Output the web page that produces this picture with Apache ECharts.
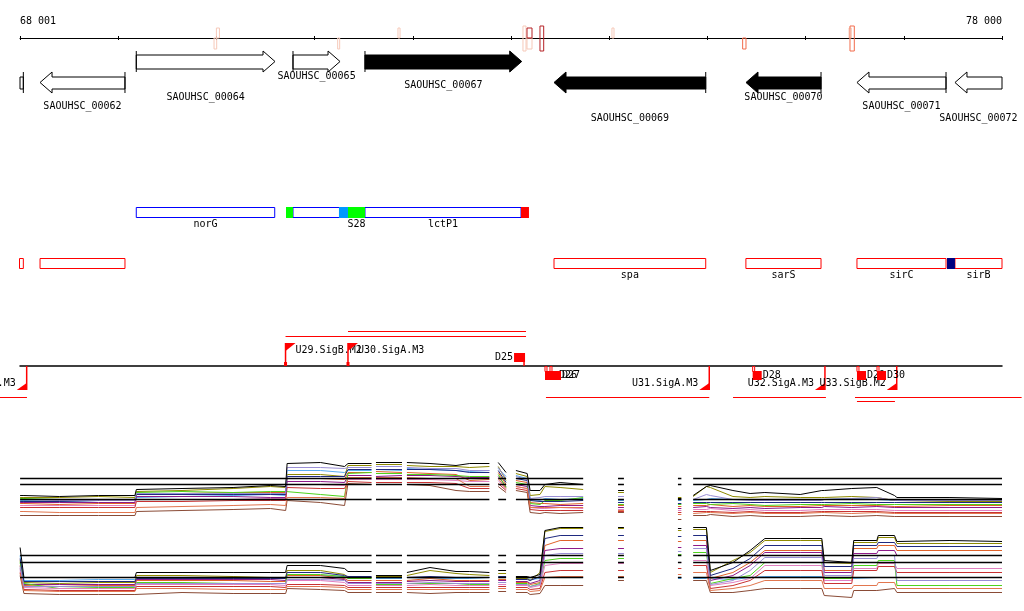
<!DOCTYPE html>
<html><head><meta charset="utf-8">
<script src="https://cdn.jsdelivr.net/npm/echarts@6/dist/echarts.min.js"></script>
<style>html,body{margin:0;padding:0;background:#fff}#c{width:1024px;height:611px}</style>
</head><body><div id="c"></div>
<script>
// ================= DATA =================
const rangeStart = 68000, rangeEnd = 78000;
const rulerTickValues = [68000, 78000];
const rulerTickLabels = ['68 001', '78 000'];

// genes (SAOUHSC locus tags)
const geneName   = ['', 'SAOUHSC_00062', 'SAOUHSC_00064', 'SAOUHSC_00065', 'SAOUHSC_00067', 'SAOUHSC_00069', 'SAOUHSC_00070', 'SAOUHSC_00071', 'SAOUHSC_00072'];
const geneStart  = [67700, 68204, 69184, 70780, 71513, 73438, 75393, 76523, 77521];
const geneEnd    = [68034, 69069, 70597, 71259, 73109, 74983, 76157, 77430, 78350];
const geneStrand = ['-', '-', '+', '+', '+', '-', '-', '-', '-'];
const geneFilled = [false, false, false, false, true, true, true, false, false];

// short marks on the ruler
const markStart  = [69976, 70000, 71235, 71849, 73122, 73163, 73163, 73295, 74028, 75359, 76442, 76452];
const markEnd    = [70003, 70031, 71255, 71870, 73153, 73214, 73214, 73333, 74049, 75393, 76466, 76496];
const markStrand = ['-', '+', '-', '+', '±', '-', '+', '±', '+', '-', '+', '±'];
const markLevel  = ['low', 'low', 'low', 'low', 'low', 'low', 'high', 'high', 'low', 'mid', 'low', 'mid'];

// annotation track 1 (blue boxes)
const feat1Name  = ['norG', '', 'lctP1'];
const feat1Start = [69184, 70780, 71513];
const feat1End   = [70594, 71513, 73102];
const spot1Name  = ['', '', 'S28', ''];
const spot1Start = [70709, 71248, 71340, 73102];
const spot1End   = [70780, 71340, 71513, 73183];
const spot1Kind  = ['green', 'cyan', 'green', 'red'];

// annotation track 2 (red boxes)
const feat2Name  = ['', '', 'spa', 'sarS', 'sirC', 'sirB'];
const feat2Start = [67980, 68204, 73438, 75392, 76523, 77521];
const feat2End   = [68034, 69069, 74983, 76157, 77430, 78000];
const spot2Start = [77440];
const spot2End   = [77521];

// transcription units
const tuStart  = [70704, 71340, 67796, 73356, 75261, 76503, 76523];
const tuEnd    = [73153, 73153, 68071, 75019, 76207, 78200, 76910];
const tuStrand = ['+', '+', '-', '-', '-', '-', '-'];
const tuLevel  = [0, 1, 0, 0, 0, 0, 1];

// promoters
const promName   = ['U28.SigA.M3', 'U29.SigB.M2', 'U30.SigA.M3', 'U31.SigA.M3', 'U32.SigA.M3', 'U33.SigB.M2'];
const promPos    = [68068, 70704, 71340, 75019, 76197, 76928];
const promStrand = ['-', '+', '+', '-', '-', '-'];

// terminators
const termName   = ['D25', 'D26', 'D27', 'D28', 'D29', 'D30'];
const termStart  = [73031, 73346, 73397, 75461, 76523, 76727];
const termEnd    = [73143, 73479, 73509, 75553, 76615, 76819];
const termStrand = ['+', '-', '-', '-', '-', '-'];

// expression tiling positions (bp); null values = no probe
const exprPos = [68001,68040,68400,68800,69170, 69185,69650,70170,70550,70705, 70720,71060,71305, 71340,71580, 71600, 71625,71890, 71910,
  71940,72175,72440,72580,72780, 72830, 72870,72950, 72990, 73050,73165, 73195,73295,73345,73500,73735, 73900,
  74855,74990,75030,75260,75435,75585,75945,76165,76190,76470,76490,76725,76740,76905,76930,77470,78000];
// two isolated probe windows inside spa
const probeWinStart = [74090, 74700];
const probeWinEnd   = [74150, 74735];

// upper expression panel (log2 signal)
const up_black = [10.5,10.5,10.4,10.5,10.5, 11.1,11.2,11.3,11.5,11.4, 13.7,13.8,13.4, 13.7,13.7, null, 13.8,13.8, null, 13.8,13.7,13.5,13.7,13.7, null, 13.8,12.8, null, 13.0,12.7, 11.0,11.0,11.6,11.8,11.6, null, 10.5,11.4,11.5,11.0,10.7,10.8,10.6,11.0,11.0,11.2,11.1,11.3,11.1,10.5,10.3,10.3,10.2];
const up_s01 = [10.0,10.0,9.9,10.0,10.0, 10.3,10.4,10.5,10.6,10.5, 13.0,13.0,12.8, 13.0,13.0, null, 13.1,13.0, null, 13.2,13.1,13.0,12.9,13.0, null, 13.2,12.4, null, 12.5,12.2, 10.1,10.0,10.2,10.1,10.2, null, 10.0,10.1,10.2,10.1,10.1,10.0,10.0,10.1,10.1,10.2,10.2,10.1,10.1,10.0,10.1,10.1,10.1];
const up_s02 = [10.3,10.3,10.3,10.4,10.3, 10.9,11.0,11.2,11.4,11.3, 12.6,12.6,12.4, 13.5,13.5, null, 13.6,13.6, null, 13.5,13.4,13.4,13.3,13.4, null, 13.4,12.0, null, 12.7,12.4, 10.5,10.6,11.4,11.3,11.1, null, 10.4,11.4,11.3,10.4,10.3,10.4,10.3,10.3,10.3,10.4,10.4,10.3,10.3,10.0,10.0,9.9,9.9];
const up_s03 = [9.7,9.7,9.6,9.7,9.7, 10.6,10.7,10.8,10.8,10.8, 12.2,12.2,12.1, 12.8,12.8, null, 12.9,12.8, null, 12.8,12.7,12.6,12.0,12.1, null, 12.8,11.6, null, 12.0,11.8, 9.8,9.7,9.7,9.6,9.7, null, 9.5,9.5,9.6,9.4,9.5,9.4,9.4,9.5,9.5,9.5,9.5,9.5,9.5,9.4,9.4,9.5,9.5];
const up_s04 = [9.8,9.8,9.8,9.8,9.8, 10.4,10.4,10.4,10.3,10.3, 11.9,11.9,11.8, 12.5,12.5, null, 12.4,12.5, null, 12.5,12.5,12.4,12.3,12.3, null, 12.4,11.4, null, 11.6,11.4, 9.5,9.4,9.4,9.5,9.5, null, 9.3,9.4,9.3,9.2,9.3,9.2,9.3,9.3,9.4,9.3,9.3,9.4,9.4,9.3,9.3,9.3,9.3];
const up_s05 = [10.2,10.2,10.1,10.1,10.1, 10.8,10.9,10.8,10.9,10.9, 10.7,10.6,10.4, 12.7,12.8, null, 12.7,12.7, null, 12.6,12.6,12.5,12.4,12.4, null, 12.6,11.3, null, 11.8,11.6, 9.7,9.6,10.0,10.0,10.3, null, 9.7,9.7,9.6,9.7,9.6,9.5,9.6,9.6,9.6,9.7,9.7,9.6,9.6,9.6,9.6,9.6,9.6];
const up_s06 = [9.5,9.5,9.5,9.5,9.5, 10.1,10.1,10.1,10.2,10.2, 11.6,11.6,11.5, 12.1,12.1, null, 12.1,12.1, null, 12.1,12.1,12.0,11.9,11.9, null, 12.0,11.1, null, 11.4,11.2, 9.3,9.2,9.2,9.3,9.2, null, 9.1,9.1,9.2,9.0,9.1,9.0,9.0,9.1,9.1,9.1,9.1,9.1,9.1,9.0,9.0,9.0,9.0];
const up_s07 = [9.3,9.3,9.3,9.3,9.3, 9.9,9.9,10.0,10.0,10.0, 11.3,11.2,11.2, 11.9,11.8, null, 11.8,11.8, null, 11.8,11.8,11.7,11.2,11.2, null, 11.7,11.0, null, 11.2,11.0, 9.1,9.0,9.0,9.0,9.0, null, 8.9,8.9,8.9,8.8,8.9,8.8,8.8,8.9,8.9,8.9,8.9,8.9,8.9,8.8,8.8,8.8,8.8];
const up_s08 = [9.9,9.9,9.9,10.0,10.0, 10.6,10.6,10.6,10.6,10.6, 12.4,12.4,12.4, 13.1,13.1, null, 13.1,13.1, null, 13.1,13.1,13.0,12.8,12.8, null, 13.0,11.8, null, 12.2,12.0, 10.0,9.9,9.9,9.9,10.0, null, 9.8,9.8,9.8,9.8,9.8,9.8,9.8,9.8,9.8,9.8,9.8,9.8,9.8,9.8,9.8,9.8,9.8];
const up_s09 = [8.5,8.5,8.5,8.5,8.5, 8.9,9.0,9.1,9.2,9.0, 10.0,9.8,9.5, 11.7,11.6, null, 11.6,11.6, null, 11.6,11.5,11.0,10.9,10.9, null, 11.4,10.8, null, 11.0,10.8, 8.8,8.7,8.8,8.7,8.8, null, 8.5,8.5,8.6,8.4,8.5,8.4,8.4,8.5,8.5,8.4,8.4,8.5,8.5,8.4,8.4,8.4,8.4];
const up_s10 = [8.9,8.9,8.8,8.8,8.8, 9.3,9.4,9.5,9.6,9.5, 10.3,10.3,10.2, 12.3,12.3, null, 12.3,12.3, null, 12.3,12.2,12.2,11.4,11.4, null, 12.2,11.2, null, 11.4,11.2, 9.3,9.3,9.3,9.3,9.3, null, 8.7,8.8,8.8,8.7,8.8,8.7,8.7,8.8,8.8,8.7,8.7,8.8,8.8,8.7,8.7,8.7,8.7];
const up_s11 = [10.1,10.1,10.0,10.0,10.0, 10.7,10.7,10.7,10.7,10.7, 13.3,13.3,13.2, 13.3,13.3, null, 13.4,13.4, null, 13.3,13.2,13.2,13.0,13.0, null, 13.3,12.2, null, 12.4,12.1, 10.2,10.3,10.4,10.4,10.4, null, 10.1,10.6,10.5,10.1,10.0,10.0,10.0,10.0,10.1,10.2,10.2,10.3,10.2,10.0,10.0,10.0,10.0];
// isolated probe windows, order s01..s11 then black
const up_winA = [10.0, 10.8, 9.5, 9.3, 9.6, 9.1, 8.9, 9.8, 8.8, 9.0, 10.4, 11.0];
const up_winB = [10.0, 10.3, 9.4, 9.2, 9.6, 9.0, 8.8, 9.7, 8.1, 8.6, 10.1, 10.2];
const up_thresholds = [12.2, 11.6, 10.1];

// lower expression panel (log2 signal)
const lo_black = [13.3,10.3,10.3,10.3,10.3, 10.8,10.8,10.8,10.8,10.8, 11.5,11.5,11.2, 10.9,10.9, null, 10.5,10.5, null, 10.8,11.3,10.9,10.9,10.8, null, 11.0,11.0, null, 10.4,10.4, 10.3,10.6,15.0,15.3,15.3, null, 15.3,15.3,11.0,11.8,13.0,14.2,14.2,14.2,12.0,11.8,14.0,14.0,14.5,14.5,13.9,14.0,13.9];
const lo_s01 = [12.5,10.0,10.0,10.1,10.1, 10.3,10.3,10.3,10.3,10.2, 10.5,10.5,10.4, 10.3,10.3, null, 10.2,10.2, null, 10.3,10.2,10.2,10.2,10.3, null, 10.3,10.3, null, 10.2,10.2, 10.1,10.2,10.3,10.3,10.3, null, 10.2,10.2,10.2,10.1,10.3,10.4,10.4,10.4,10.2,10.2,10.3,10.3,10.3,10.3,10.3,10.3,10.3];
const lo_s02 = [12.0,9.8,9.7,9.8,9.8, 10.5,10.5,10.4,10.3,10.3, 11.0,11.0,10.6, 10.3,10.3, null, 10.4,10.4, null, 10.5,11.0,10.7,10.6,10.5, null, 10.7,10.7, null, 10.2,10.2, 10.0,10.8,14.9,15.2,15.2, null, 15.1,15.1,10.8,12.0,12.8,14.0,14.0,14.0,11.8,11.7,13.8,13.8,14.3,14.3,13.7,13.7,13.7];
const lo_s03 = [11.5,9.5,9.4,9.5,9.5, 10.0,10.0,10.0,9.9,9.9, 10.5,10.5,10.2, 10.0,10.0, null, 10.0,10.0, null, 10.0,10.2,10.0,10.0,10.0, null, 10.1,10.1, null, 9.8,9.8, 9.6,9.8,13.5,14.0,14.0, null, 14.0,14.0,10.2,10.8,11.8,13.0,13.0,13.0,11.0,11.0,13.2,13.2,13.5,13.5,13.0,13.0,13.0];
const lo_s04 = [11.2,9.6,9.6,9.6,9.6, 10.1,10.1,10.1,10.1,10.0, 10.3,10.3,10.1, 9.8,9.8, null, 9.8,9.8, null, 9.9,10.0,9.9,9.9,9.9, null, 10.0,10.0, null, 9.9,9.9, 9.7,10.0,13.0,13.2,13.2, null, 13.5,13.5,10.0,10.5,11.5,12.8,12.8,12.8,10.8,10.8,12.7,12.7,13.0,13.0,12.5,12.5,12.5];
const lo_s05 = [11.8,9.7,9.2,9.3,9.3, 9.8,9.8,9.7,9.7,9.7, 10.6,10.6,10.4, 10.2,10.2, null, 9.6,9.6, null, 9.7,9.7,9.7,9.6,9.6, null, 9.8,9.8, null, 9.7,9.7, 9.4,9.7,12.0,12.2,12.2, null, 12.8,12.8,9.7,10.2,10.5,11.8,11.8,11.8,10.2,10.2,11.5,11.5,12.0,12.0,9.5,9.5,9.5];
const lo_s06 = [11.0,9.3,9.2,9.2,9.2, 9.6,9.6,9.6,9.6,9.5, 10.0,10.0,9.8, 9.5,9.5, null, 9.5,9.5, null, 9.5,9.6,9.5,9.5,9.5, null, 9.6,9.6, null, 9.5,9.5, 9.3,9.5,11.5,11.7,11.7, null, 12.0,12.0,9.5,9.8,10.2,11.5,11.5,11.5,10.0,10.0,11.2,11.2,11.7,11.7,11.2,11.2,11.2];
const lo_s07 = [10.8,9.1,9.0,9.0,9.0, 9.4,9.4,9.4,9.4,9.3, 9.6,9.6,9.5, 9.3,9.3, null, 9.3,9.3, null, 9.3,9.3,9.3,9.3,9.3, null, 9.4,9.4, null, 9.3,9.3, 9.1,9.2,10.8,11.0,11.0, null, 11.5,11.5,9.2,9.5,10.0,11.0,11.0,11.0,9.7,9.7,11.0,11.0,11.4,11.4,10.8,10.8,10.8];
const lo_s08 = [12.2,9.9,9.9,9.9,9.9, 10.2,10.2,10.2,10.2,10.2, 10.8,10.8,10.5, 10.4,10.4, null, 10.3,10.3, null, 10.3,10.4,10.3,10.3,10.3, null, 10.4,10.4, null, 10.1,10.1, 10.0,10.4,14.2,14.5,14.5, null, 14.5,14.5,10.5,11.2,12.2,13.5,13.5,13.5,11.4,11.4,13.5,13.5,13.8,13.8,13.4,13.4,13.4];
const lo_s09 = [10.5,8.7,8.6,8.6,8.6, 8.8,8.8,8.7,8.7,8.7, 9.2,9.1,9.0, 8.8,8.8, null, 8.8,8.8, null, 8.8,8.7,8.8,8.8,8.8, null, 8.9,8.9, null, 8.8,8.8, 8.6,8.7,9.5,9.5,9.5, null, 10.0,10.0,8.8,8.8,9.0,9.2,9.2,9.2,8.5,8.3,9.0,9.0,9.2,9.2,8.8,8.8,8.8];
const lo_s10 = [10.7,9.0,8.9,8.9,8.9, 9.2,9.2,9.1,9.1,9.1, 9.4,9.4,9.3, 9.1,9.1, null, 9.1,9.1, null, 9.1,9.1,9.1,9.1,9.1, null, 9.2,9.2, null, 9.1,9.1, 8.9,9.0,10.3,10.4,10.4, null, 10.8,10.8,9.0,9.2,9.5,10.0,10.0,10.0,9.2,9.2,9.5,9.5,9.8,9.8,9.2,9.2,9.2];
const lo_s11 = [11.4,9.4,9.4,9.4,9.4, 9.7,9.7,9.7,9.7,9.7, 10.1,10.1,10.0, 9.7,9.7, null, 9.7,9.7, null, 9.7,9.8,9.7,9.7,9.7, null, 9.8,9.8, null, 9.6,9.6, 9.4,9.6,12.5,12.7,12.7, null, 13.2,13.2,9.6,10.0,11.0,12.3,12.3,12.3,10.5,10.5,12.2,12.2,12.5,12.5,10.0,10.0,10.0];
const lo_winA = [10.3, 15.2, 14.0, 13.2, 12.2, 11.7, 11.0, 14.5, 10.0, 10.4, 12.7, 15.3];
const lo_winB = [10.2, 15.0, 13.9, 13.3, 12.6, 11.8, 11.2, 14.4, 10.3, 10.6, 12.9, 15.2];
const lo_thresholds = [12.5, 11.8, 10.3];

// ================= STYLE / LAYOUT =================
const FONT = '10px "DejaVu Sans Mono", monospace';
const sampleColors = ['#5aaef0', '#8f8a00', '#e0622a', '#8e1a8a', '#4fd41c', '#e080c0', '#c83232', '#1f2a80', '#8a4b36', '#e2764e', '#9a8fd6'];
const markColors = {low: '#f6c9b9', mid: '#f26b4b', high: '#b52025'};
const spotColors = {green: '#00ff00', cyan: '#0099ff', red: '#ff0000', navy: '#000080'};
const L = {
  fwdGene: {top: 51, bodyTop: 55, bodyBot: 69, bot: 72},
  revGene: {top: 72, bodyTop: 77, bodyBot: 89, bot: 93},
  geneLabelY: [null, 106, 97, 76, 85, 118, 97, 106, 118],
  mark: {'+': [28, 38], '-': [38, 49], '±': [26, 51]},
  feat1: {top: 207.5, bot: 217.5, label: 224},
  feat2: {top: 258.5, bot: 268.5, label: 275.5},
  base: 366,
  tuFwd: [336.5, 331.5], tuRev: [397.5, 401.5],
  promFwd: {top: 343, flagBot: 351, labelY: 350},
  promRev: {bot: 390, flagTop: 383, labelY: 383},
  termFwd: {top: 353, bot: 362, labelY: 357.5},
  termRev: {top: 371, bot: 380, labelY: 375.5}
};

function txt(x, y, text, align) {
  return {type: 'text', style: {x: x, y: y, text: text, align: align || 'center', verticalAlign: 'middle', font: FONT, fill: '#000'}};
}
function ln(x1, y1, x2, y2, color, w) {
  return {type: 'line', shape: {x1: x1, y1: y1, x2: x2, y2: y2}, style: {stroke: color, lineWidth: w || 1}};
}
function X(api, v) { return api.coord([v, 0])[0]; }

function renderGene(params, api) {
  const i = api.value(2);
  const lo = X(api, rangeStart), hi = X(api, rangeEnd);
  const rawS = X(api, api.value(0)), rawE = X(api, api.value(1));
  const s = Math.max(rawS, lo), e = Math.min(rawE, hi);
  const fwd = geneStrand[i] === '+';
  const G = fwd ? L.fwdGene : L.revGene;
  const fill = geneFilled[i] ? '#000' : '#fff';
  const mid = (G.top + G.bot) / 2, H = 12;
  const ch = [];
  if (e - s <= H) {
    ch.push({type: 'rect', shape: {x: s, y: G.bodyTop, width: e - s, height: G.bodyBot - G.bodyTop}, style: {fill: fill, stroke: '#000', lineWidth: 1}});
  } else {
    const pts = fwd
      ? [[s, G.bodyTop], [e - H, G.bodyTop], [e - H, G.top], [e, mid], [e - H, G.bot], [e - H, G.bodyBot], [s, G.bodyBot]]
      : [[e, G.bodyTop], [s + H, G.bodyTop], [s + H, G.top], [s, mid], [s + H, G.bot], [s + H, G.bodyBot], [e, G.bodyBot]];
    ch.push({type: 'polygon', shape: {points: pts}, style: {fill: fill, stroke: '#000', lineWidth: 1}});
  }
  const sx = fwd ? rawS : rawE;
  if (sx >= lo - 0.5 && sx <= hi + 0.5) ch.push(ln(sx, G.top, sx, G.bot, '#000', 1));
  if (geneName[i]) ch.push(txt((s + e) / 2, L.geneLabelY[i], geneName[i]));
  return {type: 'group', children: ch};
}

function renderMark(params, api) {
  const i = api.value(2);
  const s = X(api, api.value(0)), e = X(api, api.value(1));
  const yy = L.mark[markStrand[i]];
  return {type: 'rect', shape: {x: s, y: yy[0], width: Math.max(e - s, 2), height: yy[1] - yy[0]},
    style: {fill: 'none', stroke: markColors[markLevel[i]], lineWidth: 1}};
}

function boxRenderer(names, T, color) {
  return function (params, api) {
    const i = api.value(2);
    const lo = X(api, rangeStart), hi = X(api, rangeEnd);
    const s = Math.max(X(api, api.value(0)), lo - 0.5), e = Math.min(X(api, api.value(1)), hi + 0.5);
    const ch = [{type: 'rect', shape: {x: s, y: T.top, width: e - s, height: T.bot - T.top}, style: {fill: '#fff', stroke: color, lineWidth: 1}}];
    if (names[i]) ch.push(txt((s + e) / 2, T.label, names[i]));
    return {type: 'group', children: ch};
  };
}
function spotRenderer(names, kinds, T) {
  return function (params, api) {
    const i = api.value(2);
    const s = X(api, api.value(0)), e = X(api, api.value(1));
    const ch = [{type: 'rect', shape: {x: s, y: T.top - 0.5, width: e - s, height: T.bot - T.top + 1}, style: {fill: spotColors[kinds[i]]}}];
    if (names[i]) ch.push(txt((s + e) / 2, T.label, names[i]));
    return {type: 'group', children: ch};
  };
}

function renderTU(params, api) {
  const i = api.value(2);
  const s = X(api, api.value(0)), e = X(api, api.value(1));
  const y = tuStrand[i] === '+' ? L.tuFwd[tuLevel[i]] : L.tuRev[tuLevel[i]];
  return ln(s, y, e, y, '#ff0000', 1);
}

function renderProm(params, api) {
  const i = api.value(1);
  const x = X(api, api.value(0));
  const red = '#ff0000';
  if (promStrand[i] === '+') {
    const P = L.promFwd;
    return {type: 'group', children: [
      ln(x, L.base, x, P.top, red, 1.5),
      {type: 'rect', shape: {x: x - 1.5, y: L.base - 4, width: 3, height: 4}, style: {fill: red}},
      {type: 'polygon', shape: {points: [[x, P.top], [x + 10, P.top], [x, P.flagBot]]}, style: {fill: red}},
      txt(x + 10, P.labelY, promName[i], 'left')
    ]};
  }
  const P = L.promRev;
  return {type: 'group', children: [
    ln(x, L.base, x, P.bot, red, 1.5),
    {type: 'polygon', shape: {points: [[x, P.bot], [x - 10, P.bot], [x, P.flagTop]]}, style: {fill: red}},
    txt(x - 11, P.labelY, promName[i], 'right')
  ]};
}

function renderTerm(params, api) {
  const i = api.value(2);
  const s = X(api, api.value(0)), e = X(api, api.value(1));
  const red = '#ff0000';
  if (termStrand[i] === '+') {
    const T = L.termFwd;
    return {type: 'group', children: [
      {type: 'rect', shape: {x: s, y: T.top, width: e - s, height: T.bot - T.top}, style: {fill: red}},
      ln(e - 1, T.bot, e - 1, L.base, red, 1.5),
      txt(s - 1, T.labelY, termName[i], 'right')
    ]};
  }
  const T = L.termRev;
  return {type: 'group', children: [
    {type: 'rect', shape: {x: s, y: L.base + 0.5, width: 2, height: T.top - L.base}, style: {fill: '#fff', stroke: red, lineWidth: 1}},
    {type: 'rect', shape: {x: s, y: T.top, width: e - s, height: T.bot - T.top}, style: {fill: red}},
    txt(e + 1, T.labelY, termName[i], 'left')
  ]};
}

// ================= BUILD =================
function buildXY(vals, winVals) {
  const pts = exprPos.map((p, k) => [p, vals[k]]);
  winVals.forEach((v, w) => {
    pts.push([probeWinStart[w], v], [probeWinEnd[w], v], [probeWinEnd[w] + 1, null]);
  });
  pts.sort((a, b) => a[0] - b[0]);
  return pts;
}
function thresholdData(ref, v) { return ref.map(p => [p[0], p[1] === null ? null : v]); }

const upSamples = [up_s01, up_s02, up_s03, up_s04, up_s05, up_s06, up_s07, up_s08, up_s09, up_s10, up_s11];
const loSamples = [lo_s01, lo_s02, lo_s03, lo_s04, lo_s05, lo_s06, lo_s07, lo_s08, lo_s09, lo_s10, lo_s11];

const series = [];
function exprLine(name, data, xi, color) {
  series.push({type: 'line', name: name, xAxisIndex: xi, yAxisIndex: xi, data: data, showSymbol: false, symbol: 'none',
    connectNulls: false, silent: true, lineStyle: {color: color, width: 1}, z: 2});
}
function panel(samples, black, winA, winB, thresholds, idx, tag) {
  samples.forEach((v, k) => exprLine(tag + ' ' + (k + 1), buildXY(v, [winA[k], winB[k]]), idx, sampleColors[k]));
  const nb = samples.length;
  const bData = buildXY(black, [winA[nb], winB[nb]]);
  exprLine(tag + ' black', bData, idx, '#000');
  thresholds.forEach(t => series.push({type: 'line', xAxisIndex: idx, yAxisIndex: idx, data: thresholdData(bData, t),
    showSymbol: false, symbol: 'none', silent: true, lineStyle: {color: '#000', width: 1.5}, z: 3}));
}
panel(upSamples, up_black, up_winA, up_winB, up_thresholds, 1, 'up');
panel(loSamples, lo_black, lo_winA, lo_winB, lo_thresholds, 2, 'lo');

function custom(render, data, z) {
  series.push({type: 'custom', xAxisIndex: 0, yAxisIndex: 0, renderItem: render, data: data, silent: true, clip: false, z: z || 5});
}
custom(renderMark, markStart.map((s, i) => [s, markEnd[i], i]));
custom(renderGene, geneStart.map((s, i) => [s, geneEnd[i], i]));
custom(boxRenderer(feat1Name, L.feat1, '#0000ff'), feat1Start.map((s, i) => [s, feat1End[i], i]));
custom(spotRenderer(spot1Name, spot1Kind, L.feat1), spot1Start.map((s, i) => [s, spot1End[i], i]), 6);
custom(boxRenderer(feat2Name, L.feat2, '#ff0000'), feat2Start.map((s, i) => [s, feat2End[i], i]));
custom(spotRenderer([''], ['navy'], L.feat2), spot2Start.map((s, i) => [s, spot2End[i], i]), 6);
custom(renderTU, tuStart.map((s, i) => [s, tuEnd[i], i]));
custom(renderProm, promPos.map((p, i) => [p, i]), 6);
custom(renderTerm, termStart.map((s, i) => [s, termEnd[i], i]), 7);

const hiddenX = gi => ({gridIndex: gi, type: 'value', min: rangeStart, max: rangeEnd, show: false});
const option = {
  animation: false,
  backgroundColor: '#fff',
  grid: [
    {left: 20, right: 22, top: 38, bottom: 0, outerBoundsMode: 'none'},
    {left: 20, right: 22, top: 440.5, height: 100, outerBoundsMode: 'none'},
    {left: 20, right: 22, top: 520.5, height: 100, outerBoundsMode: 'none'},
    {left: 20, right: 22, top: L.base, height: 10, outerBoundsMode: 'none'}
  ],
  xAxis: [
    {gridIndex: 0, type: 'value', min: rangeStart, max: rangeEnd, interval: 1000, position: 'top',
      axisLine: {show: true, onZero: false, lineStyle: {color: '#000', width: 1}},
      axisTick: {show: true, length: 2, lineStyle: {color: '#000', width: 1}},
      axisLabel: {show: true, margin: 12, color: '#000', fontFamily: 'DejaVu Sans Mono', fontSize: 10,
        showMinLabel: true, showMaxLabel: true, alignMinLabel: 'left', alignMaxLabel: 'right',
        formatter: v => { const k = rulerTickValues.indexOf(v); return k < 0 ? '' : rulerTickLabels[k]; }},
      splitLine: {show: false}},
    hiddenX(1), hiddenX(2),
    {gridIndex: 3, type: 'value', min: rangeStart, max: rangeEnd, position: 'top',
      axisLine: {show: true, onZero: false, lineStyle: {color: '#000', width: 1.5}}, axisTick: {show: false}, axisLabel: {show: false}, splitLine: {show: false}},
    {gridIndex: 0, type: 'value', min: rangeStart, max: rangeEnd, interval: 1000, position: 'top',
      axisLine: {show: false, onZero: false}, axisTick: {show: true, inside: true, length: 2, lineStyle: {color: '#000', width: 1}},
      axisLabel: {show: false}, splitLine: {show: false}}
  ],
  yAxis: [
    {gridIndex: 0, type: 'value', min: 0, max: 1, show: false},
    {gridIndex: 1, type: 'value', min: 6, max: 16, show: false},
    {gridIndex: 2, type: 'value', min: 6, max: 16, show: false},
    {gridIndex: 3, type: 'value', min: 0, max: 1, show: false}
  ],
  series: series
};
const chart = echarts.init(document.getElementById('c'), null, {renderer: 'canvas', width: 1024, height: 611});
chart.setOption(option);
</script>
</body></html>
